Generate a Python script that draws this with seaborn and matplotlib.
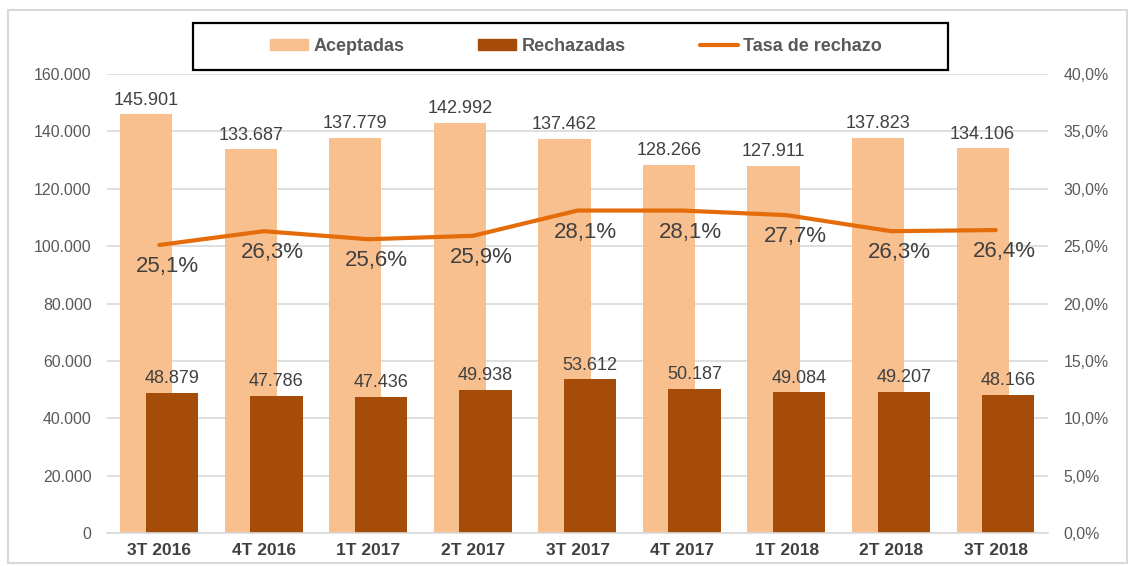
import matplotlib
matplotlib.use("Agg")
import matplotlib.pyplot as plt
from matplotlib.patches import Patch, Rectangle
from matplotlib.lines import Line2D
from matplotlib.ticker import FuncFormatter, MultipleLocator
import pandas as pd
import seaborn as sns

# datos por trimestre
trimestres = ["3T 2016", "4T 2016", "1T 2017", "2T 2017", "3T 2017",
              "4T 2017", "1T 2018", "2T 2018", "3T 2018"]
aceptadas = [145901, 133687, 137779, 142992, 137462, 128266, 127911, 137823, 134106]
rechazadas = [48879, 47786, 47436, 49938, 53612, 50187, 49084, 49207, 48166]
tasa_rechazo = [25.1, 26.3, 25.6, 25.9, 28.1, 28.1, 27.7, 26.3, 26.4]

c_acep = "#F9C08F"
c_rech = "#A54C08"
c_tasa = "#E46C0A"
c_text = "#404040"
c_tick = "#595959"
c_grid = "#D9D9D9"

sns.set_theme(style="white")
plt.rcParams['font.family'] = ['Liberation Sans', 'DejaVu Sans']

df = pd.DataFrame({"trimestre": trimestres, "aceptadas": aceptadas,
                   "rechazadas": rechazadas, "tasa": tasa_rechazo})

W, H = 1130, 566
fig = plt.figure(figsize=(W / 100, H / 100), dpi=100)
ax = fig.add_axes([107 / W, 1 - 533 / H, (1048 - 107) / W, (533 - 74) / H])

sns.barplot(data=df, x="trimestre", y="aceptadas", color=c_acep, width=0.5,
            saturation=1, errorbar=None, linewidth=0, ax=ax)
sns.barplot(data=df, x="trimestre", y="rechazadas", color=c_rech, width=0.5,
            saturation=1, errorbar=None, linewidth=0, ax=ax)

# solapar las barras como en excel
for p in ax.containers[0]:
    p.set_x(p.get_x() - 0.125)
for p in ax.containers[1]:
    p.set_x(p.get_x() + 0.12)

fmt_miles = lambda v: f"{int(v):,}".replace(",", ".")
ax.bar_label(ax.containers[0], labels=[fmt_miles(v) for v in aceptadas],
             padding=4, fontsize=13, color=c_text)
ax.bar_label(ax.containers[1], labels=[fmt_miles(v) for v in rechazadas],
             padding=4, fontsize=13, color=c_text)

ax.set_xlim(-0.5, 8.5)
ax.set_ylim(0, 160000)
ax.yaxis.set_major_locator(MultipleLocator(20000))
ax.yaxis.set_major_formatter(FuncFormatter(lambda v, p: fmt_miles(v)))
ax.grid(axis="y", color=c_grid, lw=1.2)
ax.set_axisbelow(True)
ax.set_xlabel("")
ax.set_ylabel("")
for s in ["top", "left", "right"]:
    ax.spines[s].set_visible(False)
ax.spines["bottom"].set_color(c_grid)
ax.spines["bottom"].set_linewidth(1.2)
ax.tick_params(axis="y", length=0, pad=11, labelsize=11.4, labelcolor=c_tick)
ax.tick_params(axis="x", length=0, pad=7, labelsize=12.5, labelcolor=c_text)
for t in ax.get_xticklabels():
    t.set_fontweight("bold")

# tasa de rechazo en eje secundario
ax2 = ax.twinx()
sns.lineplot(x=list(range(len(trimestres))), y=[v / 100 for v in tasa_rechazo],
             color=c_tasa, lw=3, ax=ax2)
ax2.set_ylim(0, 0.4)
ax2.yaxis.set_major_locator(MultipleLocator(0.05))
ax2.yaxis.set_major_formatter(FuncFormatter(lambda v, p: f"{v * 100:.1f}%".replace(".", ",")))
ax2.tick_params(axis="y", length=0, pad=11, labelsize=11.4, labelcolor=c_tick)
ax2.grid(False)
for s in ax2.spines.values():
    s.set_visible(False)

for i, v in enumerate(tasa_rechazo):
    ax2.annotate(f"{v:.1f}%".replace(".", ","), (i, v / 100), xytext=(6, -8),
                 textcoords="offset points", ha="center", va="top",
                 fontsize=16, color=c_text)

# leyenda con recuadro negro
handles = [Patch(color=c_acep), Patch(color=c_rech), Line2D([], [], color=c_tasa, lw=3)]
leg = fig.legend(handles, ["Aceptadas", "Rechazadas", "Tasa de rechazo"],
                 loc="center", bbox_to_anchor=(576 / W, 1 - 46.5 / H), ncol=3,
                 frameon=False, handlelength=2.1, handleheight=0.55, handletextpad=0.3,
                 columnspacing=4.1, prop=dict(weight="bold", size=13))
for t in leg.get_texts():
    t.set_color(c_tick)

fig.add_artist(Rectangle((193 / W, 1 - 70 / H), (948 - 193) / W, 47 / H,
                         transform=fig.transFigure, fill=False, edgecolor="black", lw=1.6))
fig.add_artist(Rectangle((8 / W, 1 - 563 / H), (1127 - 8) / W, (563 - 10) / H,
                         transform=fig.transFigure, fill=False, edgecolor=c_grid, lw=1.5))

fig.savefig("out.png", dpi=100)
